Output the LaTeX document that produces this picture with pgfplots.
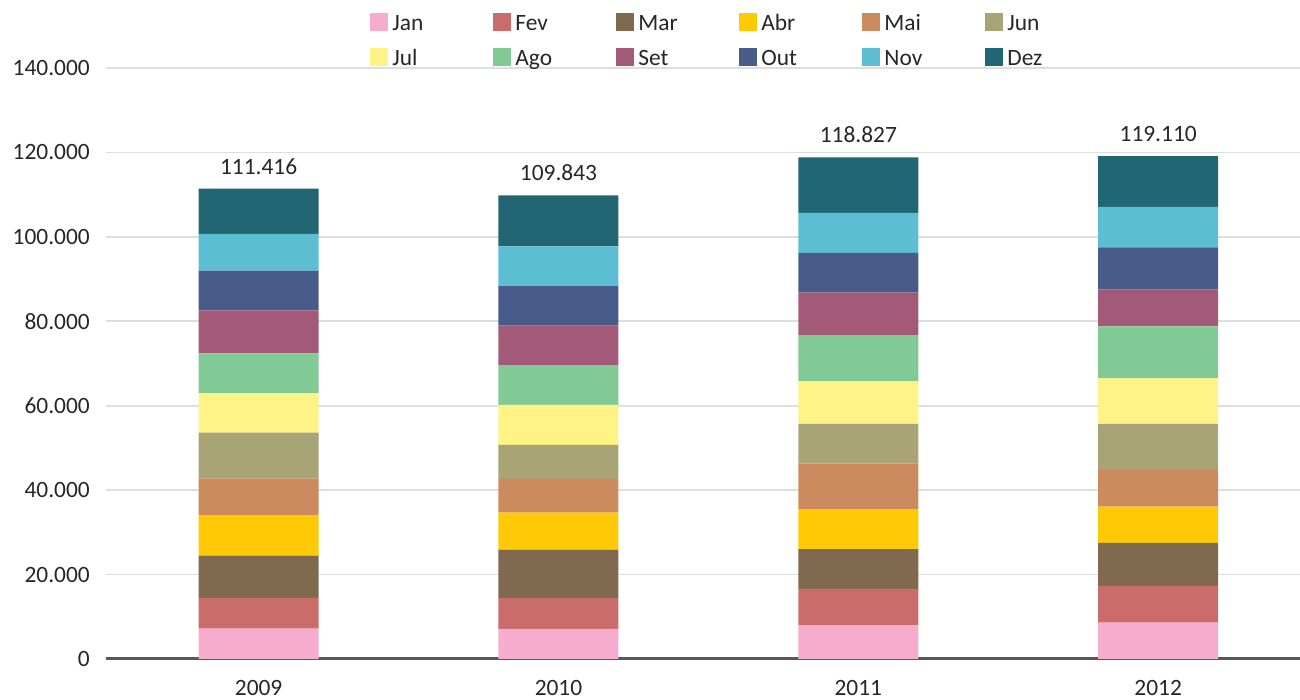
\documentclass[border=0pt]{standalone}
\usepackage{pgfplots}
\pgfplotsset{compat=1.18}
\usepackage{pgfplotstable}
\usepackage{fontspec}
\setmainfont{Carlito}
\definecolor{cJan}{HTML}{F5ACCD}
\definecolor{cFev}{HTML}{C96C6A}
\definecolor{cMar}{HTML}{806A4F}
\definecolor{cAbr}{HTML}{FFCA05}
\definecolor{cMai}{HTML}{CC8B5E}
\definecolor{cJun}{HTML}{A8A475}
\definecolor{cJul}{HTML}{FFF385}
\definecolor{cAgo}{HTML}{82CA95}
\definecolor{cSet}{HTML}{A35A78}
\definecolor{cOut}{HTML}{495C89}
\definecolor{cNov}{HTML}{5BBED3}
\definecolor{cDez}{HTML}{236673}
\definecolor{gridgray}{HTML}{DEDEDE}
\definecolor{axisgray}{HTML}{595959}
\definecolor{txt}{HTML}{262626}
\pgfplotstableread{
x Jan Fev Mar Abr Mai Jun Jul Ago Set Out Nov Dez Zero Total
0 7200 7300 10000 9600 8600 10900 9400 9400 10200 9400 8700 10716 0 111416
1 7150 7250 11500 8800 7950 8050 9500 9400 9400 9350 9400 12093 0 109843
2 8000 8600 9400 9500 10800 9400 10100 10900 10100 9400 9500 13127 0 118827
3 8600 8700 10200 8600 8700 10900 10800 12300 8700 10000 9600 12010 0 119110
}\datatable
\begin{document}
\fontsize{11.7}{14}\selectfont
\begin{tikzpicture}
\begin{axis}[
  name=ax,
  scale only axis, width=597pt, height=295.5pt,
  ybar stacked, stacked ignores zero=false, bar width=60pt,
  xmin=-0.509, xmax=3.473, ymin=0, ymax=140000,
  xtick={0,1,2,3}, xticklabels={2009,2010,2011,2012},
  ytick={0,20000,40000,60000,80000,100000,120000,140000},
  scaled y ticks=false,
  /pgf/number format/1000 sep={.},
  /pgf/number format/fixed,
  /pgf/number format/assume math mode=true,
  ticklabel style={font=\fontsize{11.7}{14}\selectfont, text=txt},
  yticklabel style={xshift=-4pt},
  xticklabel style={yshift=-6.5pt},
  major tick length=0pt,
  ymajorgrids, grid style={color=gridgray, line width=0.9pt},
  axis x line*=bottom, axis y line*=left,
  y axis line style={draw=none},
  x axis line style={draw=axisgray, line width=1.5pt, -},
  legend columns=6,
  legend style={draw=none, fill=none, at={(axis description cs:0,1)}, anchor=north west,
    xshift=132pt, yshift=28.25pt, inner sep=0pt, row sep=4.5pt,
    font=\fontsize{11.7}{14}\selectfont, text=txt,
    nodes={inner ysep=1pt, text height=8.5pt, text depth=2.5pt},
    /tikz/every even column/.append style={column sep=0pt}},
  legend image code/.code={\fill[#1,draw=none] (0pt,-3.25pt) rectangle (9pt,5.75pt);},
]
\addplot[fill=cJan, draw=none] table[x=x,y=Jan]{\datatable};
\addlegendentry{\makebox[48.5pt][l]{Jan}}
\addplot[fill=cFev, draw=none] table[x=x,y=Fev]{\datatable};
\addlegendentry{\makebox[48.5pt][l]{Fev}}
\addplot[fill=cMar, draw=none] table[x=x,y=Mar]{\datatable};
\addlegendentry{\makebox[48.5pt][l]{Mar}}
\addplot[fill=cAbr, draw=none] table[x=x,y=Abr]{\datatable};
\addlegendentry{\makebox[48.5pt][l]{Abr}}
\addplot[fill=cMai, draw=none] table[x=x,y=Mai]{\datatable};
\addlegendentry{\makebox[48.5pt][l]{Mai}}
\addplot[fill=cJun, draw=none] table[x=x,y=Jun]{\datatable};
\addlegendentry{\makebox[48.5pt][l]{Jun}}
\addplot[fill=cJul, draw=none] table[x=x,y=Jul]{\datatable};
\addlegendentry{\makebox[48.5pt][l]{Jul}}
\addplot[fill=cAgo, draw=none] table[x=x,y=Ago]{\datatable};
\addlegendentry{\makebox[48.5pt][l]{Ago}}
\addplot[fill=cSet, draw=none] table[x=x,y=Set]{\datatable};
\addlegendentry{\makebox[48.5pt][l]{Set}}
\addplot[fill=cOut, draw=none] table[x=x,y=Out]{\datatable};
\addlegendentry{\makebox[48.5pt][l]{Out}}
\addplot[fill=cNov, draw=none] table[x=x,y=Nov]{\datatable};
\addlegendentry{\makebox[48.5pt][l]{Nov}}
\addplot[fill=cDez, draw=none] table[x=x,y=Dez]{\datatable};
\addlegendentry{\makebox[48.5pt][l]{Dez}}
\addplot[forget plot, draw=none, fill=none, point meta=explicit,
  nodes near coords={\pgfmathprintnumber[1000 sep={.},fixed,precision=0,assume math mode=true]{\pgfplotspointmeta}},
  nodes near coords style={font=\fontsize{11.7}{14}\selectfont, text=txt, anchor=south, yshift=3pt}]
  table[x=x,y=Zero,meta=Total]{\datatable};
\end{axis}
\pgfresetboundingbox
\path[use as bounding box] (ax.south west) ++(-53pt,-20.5pt) rectangle ++(650pt,350pt);
\end{tikzpicture}
\end{document}
